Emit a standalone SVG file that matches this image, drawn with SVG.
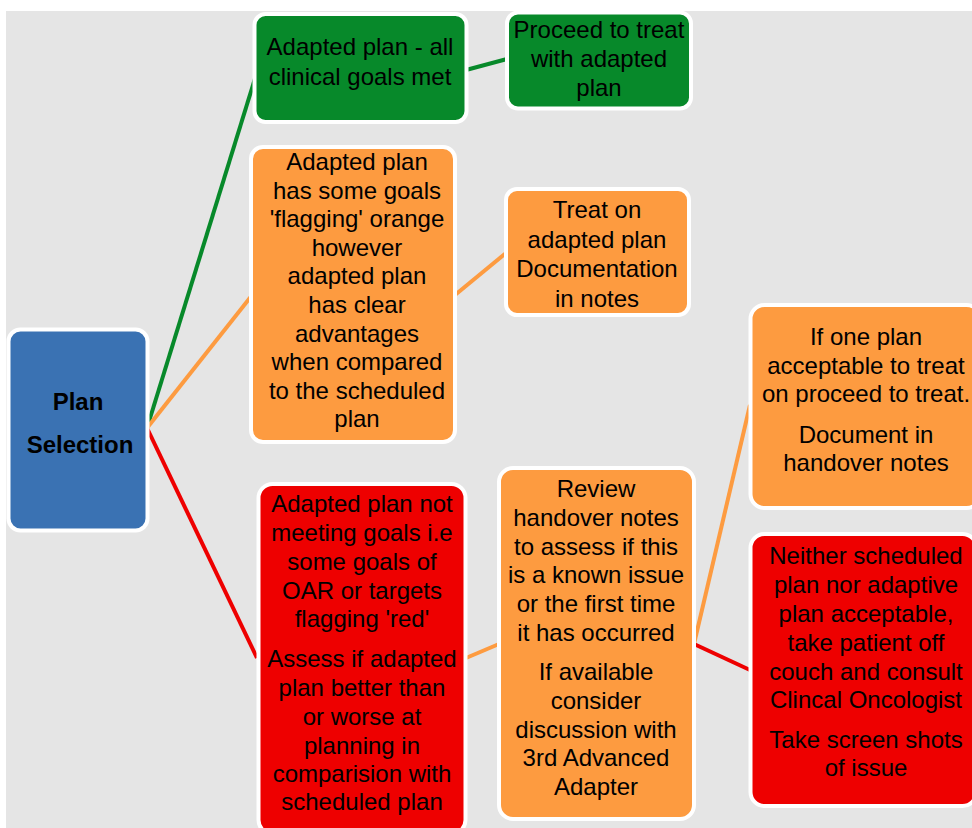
<svg xmlns="http://www.w3.org/2000/svg" width="972" height="828" viewBox="0 0 972 828">
<style>
.n{stroke:#ffffff;stroke-width:4}
.g{fill:#07892a}
.o{fill:#fd9b40}
.r{fill:#ee0000}
.b{fill:#3a72b3}
text{font-family:"Liberation Sans",Arial,sans-serif;font-size:24px;fill:#000;text-anchor:middle}
.bold{font-weight:bold}
.c{fill:none;stroke-width:4}
.cg{stroke:#07892a}
.co{stroke:#fd9b40}
.cr{stroke:#ee0000}
</style>
<rect x="6" y="11" width="966" height="817" fill="#e5e5e5"/>
<g id="connectors">
<line class="c cg" x1="147" y1="428" x2="257" y2="72"/>
<line class="c co" x1="147" y1="428" x2="253" y2="294"/>
<line class="c cr" x1="147" y1="428" x2="257" y2="658"/>
<line class="c cg" x1="466" y1="70" x2="507" y2="59"/>
<line class="c co" x1="455" y1="295" x2="506" y2="253"/>
<line class="c co" x1="466" y1="658" x2="499" y2="644"/>
<line class="c co" x1="694" y1="644" x2="750" y2="405"/>
<line class="c cr" x1="694" y1="644" x2="750" y2="670"/>
</g>
<g id="plan-selection">
<rect class="n b" x="8.5" y="329.5" width="139" height="201" rx="12"/>
<text class="bold" x="78" y="410">Plan</text>
<text class="bold" x="80" y="453">Selection</text>
</g>
<g id="adapted-all-met">
<rect class="n g" x="254.5" y="14" width="212" height="108" rx="11"/>
<text x="360" y="55">Adapted plan - all</text>
<text x="360" y="85">clinical goals met</text>
</g>
<g id="proceed-adapted">
<rect class="n g" x="507" y="12.5" width="184" height="96" rx="11"/>
<text x="599" y="38">Proceed to treat</text>
<text x="599" y="67">with adapted</text>
<text x="599" y="96">plan</text>
</g>
<g id="adapted-orange">
<rect class="n o" x="251" y="147" width="204" height="295" rx="12"/>
<text x="357" y="170">Adapted plan</text>
<text x="357" y="198.6">has some goals</text>
<text x="357" y="227.2">'flagging' orange</text>
<text x="357" y="255.8">however</text>
<text x="357" y="284.4">adapted plan</text>
<text x="357" y="313">has clear</text>
<text x="357" y="341.6">advantages</text>
<text x="357" y="370.2">when compared</text>
<text x="357" y="398.8">to the scheduled</text>
<text x="357" y="427.4">plan</text>
</g>
<g id="treat-adapted">
<rect class="n o" x="506" y="189" width="183" height="126" rx="11"/>
<text x="597" y="218">Treat on</text>
<text x="597" y="247.5">adapted plan</text>
<text x="597" y="277">Documentation</text>
<text x="597" y="306.5">in notes</text>
</g>
<g id="adapted-red">
<rect class="n r" x="258.5" y="484" width="207" height="350" rx="14"/>
<text x="362" y="512">Adapted plan not</text>
<text x="362" y="541">meeting goals i.e</text>
<text x="362" y="570">some goals of</text>
<text x="362" y="599">OAR or targets</text>
<text x="362" y="627">flagging 'red'</text>
<text x="362" y="667">Assess if adapted</text>
<text x="362" y="696">plan better than</text>
<text x="362" y="725">or worse at</text>
<text x="362" y="754">planning in</text>
<text x="362" y="782">comparision with</text>
<text x="362" y="810">scheduled plan</text>
</g>
<g id="review-handover">
<rect class="n o" x="499" y="468" width="195" height="351" rx="14"/>
<text x="596" y="497">Review</text>
<text x="596" y="526">handover notes</text>
<text x="596" y="555">to assess if this</text>
<text x="596" y="583">is a known issue</text>
<text x="596" y="612">or the first time</text>
<text x="596" y="641">it has occurred</text>
<text x="596" y="680">If available</text>
<text x="596" y="709">consider</text>
<text x="596" y="738">discussion with</text>
<text x="596" y="766">3rd Advanced</text>
<text x="596" y="795">Adapter</text>
</g>
<g id="one-plan-acceptable">
<rect class="n o" x="750.5" y="305" width="230" height="203" rx="14"/>
<text x="866" y="345">If one plan</text>
<text x="866" y="374">acceptable to treat</text>
<text x="866" y="402">on proceed to treat.</text>
<text x="866" y="443">Document in</text>
<text x="866" y="471">handover notes</text>
</g>
<g id="neither-acceptable">
<rect class="n r" x="750.5" y="534" width="226" height="272" rx="14"/>
<text x="866" y="564">Neither scheduled</text>
<text x="866" y="593">plan nor adaptive</text>
<text x="866" y="622">plan acceptable,</text>
<text x="866" y="651">take patient off</text>
<text x="866" y="680">couch and consult</text>
<text x="866" y="708">Clincal Oncologist</text>
<text x="866" y="748">Take screen shots</text>
<text x="866" y="776">of issue</text>
</g>
</svg>
